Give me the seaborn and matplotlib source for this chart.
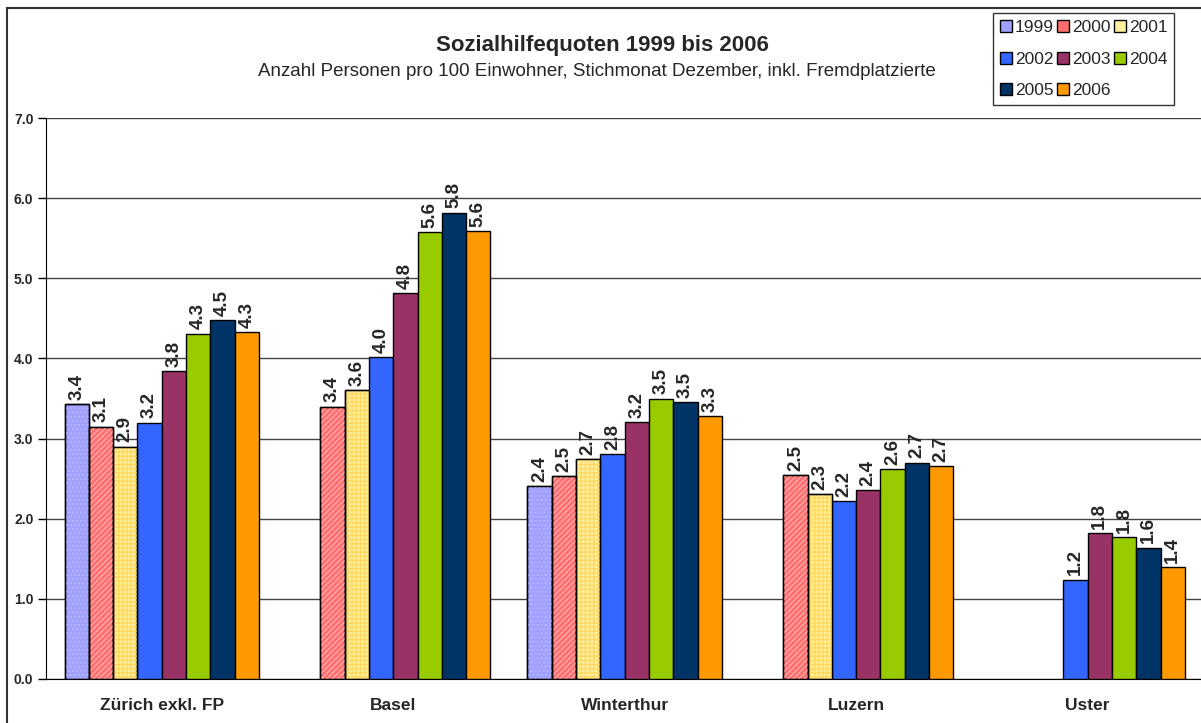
import matplotlib
matplotlib.use("Agg")
import matplotlib.pyplot as plt
import seaborn as sns
import pandas as pd
import numpy as np
from matplotlib.patches import Rectangle, Patch

# ---- data ----
cities = ["Zürich exkl. FP", "Basel", "Winterthur", "Luzern", "Uster"]
years = ["1999", "2000", "2001", "2002", "2003", "2004", "2005", "2006"]
v1999 = [3.43, np.nan, 2.41, np.nan, np.nan]
v2000 = [3.15, 3.40, 2.53, 2.54, np.nan]
v2001 = [2.90, 3.61, 2.74, 2.31, np.nan]
v2002 = [3.20, 4.02, 2.81, 2.22, 1.24]
v2003 = [3.84, 4.82, 3.21, 2.36, 1.82]
v2004 = [4.31, 5.58, 3.50, 2.62, 1.77]
v2005 = [4.48, 5.82, 3.46, 2.70, 1.64]
v2006 = [4.33, 5.59, 3.28, 2.66, 1.40]
series = [v1999, v2000, v2001, v2002, v2003, v2004, v2005, v2006]
colors = ["#A0A0FF", "#FF6E6E", "#FFF0A0", "#3366FF", "#993366", "#99CC00", "#003366", "#FF9900"]
hatches = {"1999": ("....", "#B8B8FF"), "2000": ("//////", "#FFA8A8"), "2001": ("++++", "#FFD860")}
title = "Sozialhilfequoten 1999 bis 2006"
subtitle = "Anzahl Personen pro 100 Einwohner, Stichmonat Dezember, inkl. Fremdplatzierte"
yticks = [0, 1, 2, 3, 4, 5, 6, 7]

rows = []
for y, vals in zip(years, series):
    for c, v in zip(cities, vals):
        rows.append({"Stadt": c, "Jahr": y, "Quote": v})
df = pd.DataFrame(rows)

sns.set_style("white")
plt.rcParams["font.family"] = ["Liberation Sans", "DejaVu Sans"]
plt.rcParams["hatch.linewidth"] = 1.0

fig = plt.figure(figsize=(12.01, 7.23), dpi=100)
ax = fig.add_axes([46 / 1201, 1 - 679 / 723, 1 - 46 / 1201 + 0.002, (679 - 118) / 723])

sns.barplot(data=df, x="Stadt", y="Quote", hue="Jahr", order=cities, hue_order=years,
            palette=colors, width=0.84, edgecolor="black", linewidth=1.0,
            saturation=1, errorbar=None, ax=ax, legend=False, zorder=3)

# hatch overlays for patterned series
for cont, yr in zip(ax.containers, years):
    if yr in hatches:
        h, hc = hatches[yr]
        for p in cont.patches:
            if np.isnan(p.get_height()) or p.get_height() == 0:
                continue
            ax.add_patch(Rectangle(p.get_xy(), p.get_width(), p.get_height(), fill=False,
                                   hatch=h, edgecolor=hc, linewidth=0, zorder=3.5))
            ax.add_patch(Rectangle(p.get_xy(), p.get_width(), p.get_height(), fill=False,
                                   edgecolor="black", linewidth=1.0, zorder=3.6))
    ax.bar_label(cont, rotation=90, padding=3, fontsize=13.5, fontweight="bold",
                 labels=[("" if np.isnan(v) else f"{v:.1f}") for v in [p.get_height() for p in cont.patches]])

ax.set_ylim(0, 7)
ax.set_xlim(-0.5, 4.5)
ax.set_yticks(yticks)
ax.set_yticklabels([f"{t:.1f}" for t in yticks], fontsize=10, fontweight="bold")
ax.set_xticks(range(len(cities)))
ax.set_xticklabels(cities, fontsize=12.5, fontweight="bold")
ax.tick_params(axis="x", which="major", length=0, pad=14)
ax.set_xticks([0.5, 1.5, 2.5, 3.5], minor=True)
ax.tick_params(axis="x", which="minor", length=6, direction="out", color="black", width=1)
ax.tick_params(axis="y", length=6, direction="out", color="black", width=1, pad=3, left=True)
ax.grid(axis="y", color="#444444", linewidth=1.0, zorder=0)
ax.set_axisbelow(True)
ax.set_xlabel("")
ax.set_ylabel("")
for s in ["top", "right"]:
    ax.spines[s].set_visible(False)
ax.spines["left"].set_color("black")
ax.spines["bottom"].set_color("black")

# outer chart frame
fig.patches.append(Rectangle((7 / 1201, -0.01), 1.0, 1 - 8 / 723 + 0.01, transform=fig.transFigure,
                             fill=False, edgecolor="#333333", linewidth=1.5, zorder=0))

fig.text(602 / 1201, 1 - 45 / 723, title, ha="center", va="center", fontsize=16, fontweight="bold")
fig.text(597 / 1201, 1 - 72 / 723, subtitle, ha="center", va="center", fontsize=13.5)

# legend (row-wise order)
handles = [Patch(facecolor=c, edgecolor="black", label=yr) for yr, c in zip(years, colors)]
order = [0, 3, 6, 1, 4, 7, 2, 5]
leg = fig.legend([handles[i] for i in order], [years[i] for i in order], ncol=3,
                 loc="upper left", bbox_to_anchor=(993 / 1201, 1 - 13 / 723),
                 fontsize=12.5, frameon=True, fancybox=False, handlelength=0.7, handleheight=0.7,
                 handletextpad=0.15, columnspacing=0.2, labelspacing=0.95, borderpad=0.4,
                 borderaxespad=0)
leg.get_frame().set_edgecolor("black")
leg.get_frame().set_linewidth(1.0)

fig.savefig("out.png", dpi=100)
